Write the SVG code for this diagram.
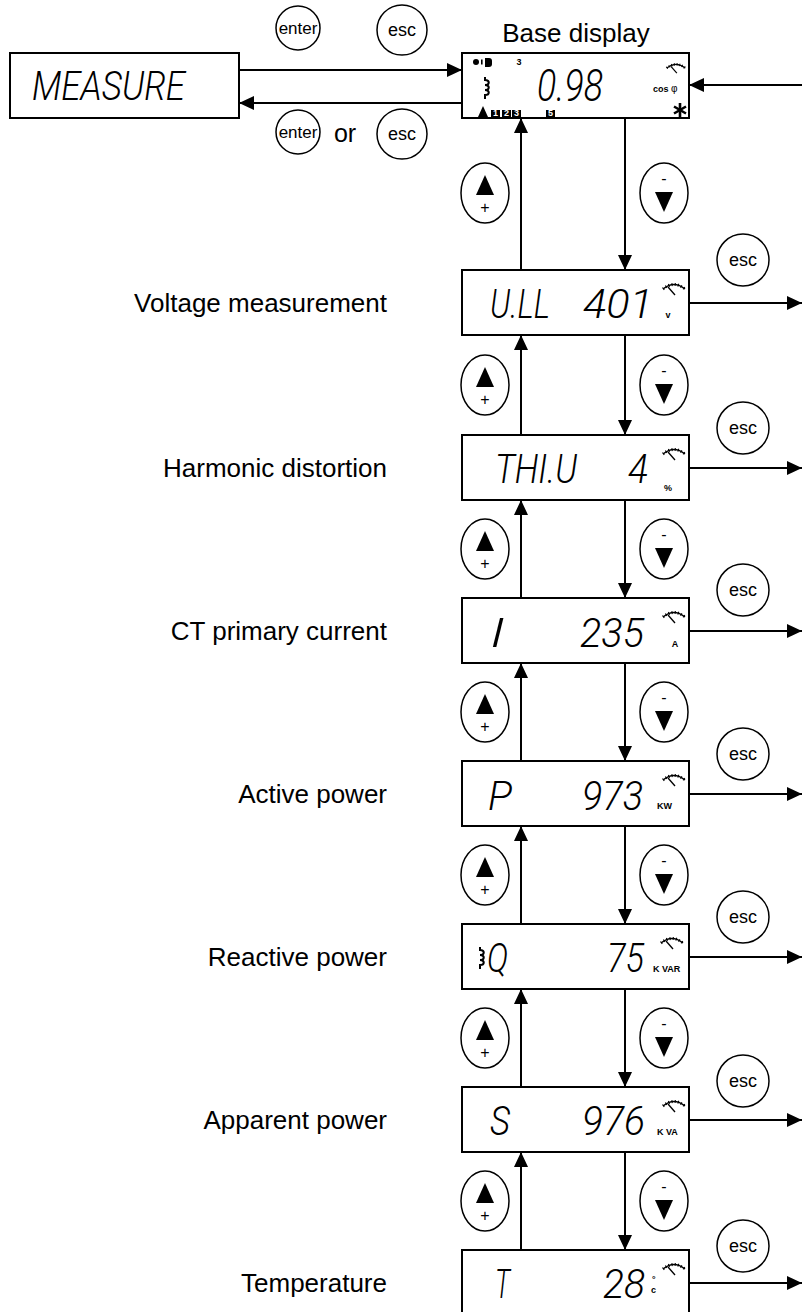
<svg xmlns="http://www.w3.org/2000/svg" width="802" height="1312" viewBox="0 0 802 1312">
<defs>
<style>
.box{fill:#fff;stroke:#000;stroke-width:2}
.ln{fill:none;stroke:#000;stroke-width:2}
.lbl{font-family:"Liberation Sans",Arial,sans-serif;font-size:26px;fill:#000}
.btn{font-family:"Liberation Sans",Arial,sans-serif;fill:#000}
.lcd{font-family:Roboto,"Liberation Sans",sans-serif;font-style:italic;font-weight:300;fill:#000}
.unit{font-family:"Liberation Sans",Arial,sans-serif;font-weight:bold;font-size:9px;fill:#000}
.circ{fill:#fff;stroke:#000;stroke-width:1.5}
.meter{fill:none;stroke:#000;stroke-width:1.4}
</style>
<marker id="ah" markerUnits="userSpaceOnUse" markerWidth="16" markerHeight="14" refX="15" refY="7" orient="auto">
<path d="M0,0 L15,7 L0,14 z" fill="#000"/>
</marker>
<g id="meterIcon">
<path d="M-11,6 Q0,-3 11,6" class="meter"/>
<path d="M-11,6 Q0,-3 11,6" fill="none" stroke="#000" stroke-width="3" stroke-dasharray="1 2.2"/>
<line x1="1" y1="12" x2="-6" y2="4" stroke="#000" stroke-width="1.4"/>
</g>
<g id="coil">
<path d="M0,0 v3 c5,0 5,5 0,5 c5,0 5,5 0,5 c5,0 5,5 0,5 v4" fill="none" stroke="#000" stroke-width="2"/>
</g>
</defs>
<rect width="802" height="1312" fill="#fff"/>

<g id="connectors">
<line x1="239" y1="70" x2="462" y2="70" class="ln" marker-end="url(#ah)"/>
<line x1="462" y1="103" x2="239" y2="103" class="ln" marker-end="url(#ah)"/>
<line x1="802" y1="85" x2="689" y2="85" class="ln" marker-end="url(#ah)"/>
<line x1="521" y1="270" x2="521" y2="118" class="ln" marker-end="url(#ah)"/>
<line x1="625" y1="118" x2="625" y2="270" class="ln" marker-end="url(#ah)"/>
<line x1="521" y1="435" x2="521" y2="335" class="ln" marker-end="url(#ah)"/>
<line x1="625" y1="335" x2="625" y2="435" class="ln" marker-end="url(#ah)"/>
<line x1="521" y1="598" x2="521" y2="500" class="ln" marker-end="url(#ah)"/>
<line x1="625" y1="500" x2="625" y2="598" class="ln" marker-end="url(#ah)"/>
<line x1="521" y1="761" x2="521" y2="663" class="ln" marker-end="url(#ah)"/>
<line x1="625" y1="663" x2="625" y2="761" class="ln" marker-end="url(#ah)"/>
<line x1="521" y1="924" x2="521" y2="826" class="ln" marker-end="url(#ah)"/>
<line x1="625" y1="826" x2="625" y2="924" class="ln" marker-end="url(#ah)"/>
<line x1="521" y1="1087" x2="521" y2="989" class="ln" marker-end="url(#ah)"/>
<line x1="625" y1="989" x2="625" y2="1087" class="ln" marker-end="url(#ah)"/>
<line x1="521" y1="1250" x2="521" y2="1152" class="ln" marker-end="url(#ah)"/>
<line x1="625" y1="1152" x2="625" y2="1250" class="ln" marker-end="url(#ah)"/>
<line x1="689" y1="303" x2="802" y2="303" class="ln" marker-end="url(#ah)"/>
<line x1="689" y1="468" x2="802" y2="468" class="ln" marker-end="url(#ah)"/>
<line x1="689" y1="631" x2="802" y2="631" class="ln" marker-end="url(#ah)"/>
<line x1="689" y1="794" x2="802" y2="794" class="ln" marker-end="url(#ah)"/>
<line x1="689" y1="957" x2="802" y2="957" class="ln" marker-end="url(#ah)"/>
<line x1="689" y1="1120" x2="802" y2="1120" class="ln" marker-end="url(#ah)"/>
<line x1="689" y1="1283" x2="802" y2="1283" class="ln" marker-end="url(#ah)"/>
</g>

<g id="measure">
<rect x="10" y="53" width="229" height="65" class="box"/>
<text x="32" y="100" class="lcd" font-size="40" textLength="153" lengthAdjust="spacingAndGlyphs">MEASURE</text>
</g>

<g id="top-buttons">
<circle cx="298" cy="28" r="22" class="circ"/>
<text x="298" y="34" class="btn" font-size="17" text-anchor="middle">enter</text>
<circle cx="402" cy="30" r="25" class="circ"/>
<text x="402" y="36" class="btn" font-size="18" text-anchor="middle">esc</text>
<circle cx="298" cy="132" r="22" class="circ"/>
<text x="298" y="138" class="btn" font-size="17" text-anchor="middle">enter</text>
<text x="345" y="142" class="btn" font-size="25" text-anchor="middle">or</text>
<circle cx="402" cy="134" r="25" class="circ"/>
<text x="402" y="140" class="btn" font-size="18" text-anchor="middle">esc</text>
</g>

<g id="base">
<text x="576" y="42" class="lbl" text-anchor="middle">Base display</text>
<rect x="462" y="53" width="227" height="65" class="box"/>
<circle cx="476" cy="62" r="3" fill="#000"/>
<rect x="481" y="59.5" width="1.6" height="5" fill="#000"/>
<path d="M485,58 h4 q3,0 3,3 v3 q0,3 -3,3 h-4 z" fill="#000"/>
<text x="519" y="65" class="unit" font-size="10" text-anchor="middle">3</text>
<use href="#coil" x="485" y="77"/>
<polygon points="483,106 478,117 488,117" fill="#000"/>
<rect x="491" y="110" width="9" height="7" fill="#000"/>
<rect x="502" y="110" width="9" height="7" fill="#000"/>
<rect x="512" y="110" width="9" height="7" fill="#000"/>
<rect x="546" y="110" width="9" height="7" fill="#000"/>
<text x="495.5" y="116" class="unit" font-size="7" style="fill:#fff" text-anchor="middle">1</text>
<text x="506.5" y="116" class="unit" font-size="7" style="fill:#fff" text-anchor="middle">2</text>
<text x="516.5" y="116" class="unit" font-size="7" style="fill:#fff" text-anchor="middle">3</text>
<text x="550.5" y="116" class="unit" font-size="7" style="fill:#fff" text-anchor="middle">5</text>
<text x="537" y="101" class="lcd" font-size="44" textLength="66" lengthAdjust="spacingAndGlyphs">0.98</text>
<use href="#meterIcon" transform="translate(676 63) scale(0.85)"/>
<text x="653" y="92" class="unit" font-size="9">cos</text>
<text x="671" y="92" class="btn" font-size="10">φ</text>
<g stroke="#000" stroke-width="2.6">
<line x1="680" y1="103" x2="680" y2="117"/>
<line x1="674" y1="106.5" x2="686" y2="113.5"/>
<line x1="674" y1="113.5" x2="686" y2="106.5"/>
</g>
</g>

<g id="voltage">
<text x="387" y="312" class="lbl" text-anchor="end">Voltage measurement</text>
<rect x="462" y="270" width="227" height="65" class="box"/>
<text x="490" y="318" class="lcd" font-size="40" textLength="60" lengthAdjust="spacingAndGlyphs">U.LL</text>
<text x="583" y="318" class="lcd" font-size="40" textLength="70" lengthAdjust="spacingAndGlyphs">401</text>
<use href="#meterIcon" x="674" y="283"/>
<text x="668" y="318" class="unit" text-anchor="middle">v</text>
</g>

<g id="harmonic">
<text x="387" y="477" class="lbl" text-anchor="end">Harmonic distortion</text>
<rect x="462" y="435" width="227" height="65" class="box"/>
<text x="495" y="483" class="lcd" font-size="40" textLength="82" lengthAdjust="spacingAndGlyphs">THI.U</text>
<text x="628" y="483" class="lcd" font-size="40" textLength="20" lengthAdjust="spacingAndGlyphs">4</text>
<use href="#meterIcon" x="674" y="448"/>
<text x="668" y="491" class="unit" text-anchor="middle">%</text>
</g>

<g id="ct">
<text x="387" y="640" class="lbl" text-anchor="end">CT primary current</text>
<rect x="462" y="598" width="227" height="65" class="box"/>
<text x="490" y="647" class="lcd" font-size="40" textLength="15" lengthAdjust="spacingAndGlyphs">I</text>
<text x="580" y="647" class="lcd" font-size="40" textLength="64" lengthAdjust="spacingAndGlyphs">235</text>
<use href="#meterIcon" x="674" y="611"/>
<text x="675" y="647" class="unit" text-anchor="middle">A</text>
</g>

<g id="active">
<text x="387" y="803" class="lbl" text-anchor="end">Active power</text>
<rect x="462" y="761" width="227" height="65" class="box"/>
<text x="488" y="810" class="lcd" font-size="40" textLength="24" lengthAdjust="spacingAndGlyphs">P</text>
<text x="582" y="810" class="lcd" font-size="40" textLength="61" lengthAdjust="spacingAndGlyphs">973</text>
<use href="#meterIcon" x="674" y="774"/>
<text x="657" y="809" class="unit">KW</text>
</g>

<g id="reactive">
<text x="387" y="966" class="lbl" text-anchor="end">Reactive power</text>
<rect x="462" y="924" width="227" height="65" class="box"/>
<use href="#coil" x="480" y="947"/>
<text x="487" y="972" class="lcd" font-size="40" textLength="21" lengthAdjust="spacingAndGlyphs">Q</text>
<text x="607" y="972" class="lcd" font-size="40" textLength="37" lengthAdjust="spacingAndGlyphs">75</text>
<use href="#meterIcon" x="672" y="937"/>
<text x="653" y="972" class="unit">K VAR</text>
</g>

<g id="apparent">
<text x="387" y="1129" class="lbl" text-anchor="end">Apparent power</text>
<rect x="462" y="1087" width="227" height="65" class="box"/>
<text x="490" y="1135" class="lcd" font-size="40" textLength="20" lengthAdjust="spacingAndGlyphs">S</text>
<text x="582" y="1135" class="lcd" font-size="40" textLength="63" lengthAdjust="spacingAndGlyphs">976</text>
<use href="#meterIcon" x="674" y="1100"/>
<text x="657" y="1135" class="unit">K VA</text>
</g>

<g id="temperature">
<text x="387" y="1292" class="lbl" text-anchor="end">Temperature</text>
<rect x="462" y="1250" width="227" height="70" class="box"/>
<text x="495" y="1298" class="lcd" font-size="40" textLength="15" lengthAdjust="spacingAndGlyphs">T</text>
<text x="603" y="1298" class="lcd" font-size="40" textLength="42" lengthAdjust="spacingAndGlyphs">28</text>
<text x="652" y="1282" class="unit" font-size="8">°</text>
<text x="651" y="1293" class="unit">c</text>
<use href="#meterIcon" x="674" y="1263"/>
</g>

<g id="buttons">
<g id="up1"><ellipse cx="485" cy="193" rx="24" ry="30" class="circ"/><polygon points="485,175 476,195 494,195" fill="#000"/><text x="485" y="213" class="btn" font-size="16" text-anchor="middle">+</text></g>
<g id="dn1"><ellipse cx="664" cy="193" rx="24" ry="30" class="circ"/><text x="664" y="184" class="btn" font-size="16" text-anchor="middle">-</text><polygon points="655,192 673,192 664,212" fill="#000"/></g>
<g id="esc1"><circle cx="743" cy="260" r="26" class="circ"/><text x="743" y="266" class="btn" font-size="18" text-anchor="middle">esc</text></g>

<g id="up2"><ellipse cx="485" cy="385" rx="24" ry="30" class="circ"/><polygon points="485,367 476,387 494,387" fill="#000"/><text x="485" y="405" class="btn" font-size="16" text-anchor="middle">+</text></g>
<g id="dn2"><ellipse cx="664" cy="385" rx="24" ry="30" class="circ"/><text x="664" y="376" class="btn" font-size="16" text-anchor="middle">-</text><polygon points="655,384 673,384 664,404" fill="#000"/></g>
<g id="esc2"><circle cx="743" cy="428" r="26" class="circ"/><text x="743" y="434" class="btn" font-size="18" text-anchor="middle">esc</text></g>

<g id="up3"><ellipse cx="485" cy="549" rx="24" ry="30" class="circ"/><polygon points="485,531 476,551 494,551" fill="#000"/><text x="485" y="569" class="btn" font-size="16" text-anchor="middle">+</text></g>
<g id="dn3"><ellipse cx="664" cy="549" rx="24" ry="30" class="circ"/><text x="664" y="540" class="btn" font-size="16" text-anchor="middle">-</text><polygon points="655,548 673,548 664,568" fill="#000"/></g>
<g id="esc3"><circle cx="743" cy="590" r="26" class="circ"/><text x="743" y="596" class="btn" font-size="18" text-anchor="middle">esc</text></g>

<g id="up4"><ellipse cx="485" cy="712" rx="24" ry="30" class="circ"/><polygon points="485,694 476,714 494,714" fill="#000"/><text x="485" y="732" class="btn" font-size="16" text-anchor="middle">+</text></g>
<g id="dn4"><ellipse cx="664" cy="712" rx="24" ry="30" class="circ"/><text x="664" y="703" class="btn" font-size="16" text-anchor="middle">-</text><polygon points="655,711 673,711 664,731" fill="#000"/></g>
<g id="esc4"><circle cx="743" cy="754" r="26" class="circ"/><text x="743" y="760" class="btn" font-size="18" text-anchor="middle">esc</text></g>

<g id="up5"><ellipse cx="485" cy="875" rx="24" ry="30" class="circ"/><polygon points="485,857 476,877 494,877" fill="#000"/><text x="485" y="895" class="btn" font-size="16" text-anchor="middle">+</text></g>
<g id="dn5"><ellipse cx="664" cy="875" rx="24" ry="30" class="circ"/><text x="664" y="866" class="btn" font-size="16" text-anchor="middle">-</text><polygon points="655,874 673,874 664,894" fill="#000"/></g>
<g id="esc5"><circle cx="743" cy="917" r="26" class="circ"/><text x="743" y="923" class="btn" font-size="18" text-anchor="middle">esc</text></g>

<g id="up6"><ellipse cx="485" cy="1038" rx="24" ry="30" class="circ"/><polygon points="485,1020 476,1040 494,1040" fill="#000"/><text x="485" y="1058" class="btn" font-size="16" text-anchor="middle">+</text></g>
<g id="dn6"><ellipse cx="664" cy="1038" rx="24" ry="30" class="circ"/><text x="664" y="1029" class="btn" font-size="16" text-anchor="middle">-</text><polygon points="655,1037 673,1037 664,1057" fill="#000"/></g>
<g id="esc6"><circle cx="743" cy="1081" r="26" class="circ"/><text x="743" y="1087" class="btn" font-size="18" text-anchor="middle">esc</text></g>

<g id="up7"><ellipse cx="485" cy="1201" rx="24" ry="30" class="circ"/><polygon points="485,1183 476,1203 494,1203" fill="#000"/><text x="485" y="1221" class="btn" font-size="16" text-anchor="middle">+</text></g>
<g id="dn7"><ellipse cx="664" cy="1201" rx="24" ry="30" class="circ"/><text x="664" y="1192" class="btn" font-size="16" text-anchor="middle">-</text><polygon points="655,1200 673,1200 664,1220" fill="#000"/></g>
<g id="esc7"><circle cx="743" cy="1246" r="26" class="circ"/><text x="743" y="1252" class="btn" font-size="18" text-anchor="middle">esc</text></g>
</g>
</svg>
